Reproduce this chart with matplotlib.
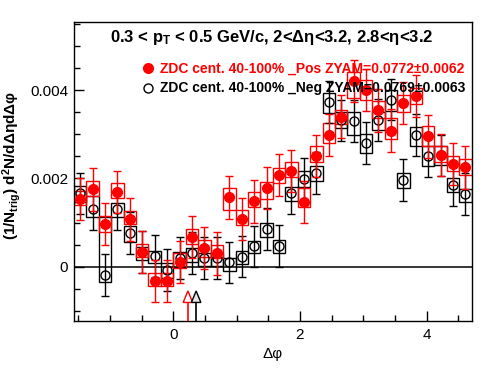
import numpy as np
import matplotlib
matplotlib.use("Agg")
import matplotlib.pyplot as plt
from matplotlib.patches import Rectangle, Polygon
from matplotlib.ticker import MultipleLocator

plt.rcParams['font.family'] = ['Liberation Sans', 'DejaVu Sans']
plt.rcParams['mathtext.fontset'] = 'custom'
plt.rcParams['mathtext.rm'] = 'Liberation Sans:bold'
plt.rcParams['mathtext.it'] = 'Liberation Sans:bold'
plt.rcParams['mathtext.bf'] = 'Liberation Sans:bold'

# ---- data ----
nbins = 32
dphi = -np.pi / 2 + (np.arange(nbins) + 0.5) * (2 * np.pi / nbins)

pos_y = [0.00153, 0.00175, 0.00097, 0.00169, 0.00107, 0.00033, -0.00032, -0.00032,
         0.00010, 0.00067, 0.00042, 0.00030, 0.00157, 0.00108, 0.00148, 0.00178,
         0.00208, 0.00217, 0.00147, 0.00250, 0.00298, 0.00340, 0.00420, 0.00400,
         0.00354, 0.00308, 0.00370, 0.00386, 0.00295, 0.00253, 0.00232, 0.00225]
pos_err = [0.00048] * nbins
pos_sys_hi = [0.00172, 0.00195, 0.00115, 0.00189, 0.00127, 0.00051, -0.00015, -0.00015,
              0.00031, 0.00085, 0.00060, 0.00048, 0.00178, 0.00128, 0.00169, 0.00192,
              0.00223, 0.00236, 0.00179, 0.00273, 0.00325, 0.00355, 0.00441, 0.00423,
              0.00374, 0.00337, 0.00389, 0.00405, 0.00319, 0.00273, 0.00251, 0.00243]
pos_sys_lo = [0.00140, 0.00161, 0.00079, 0.00155, 0.00097, 0.00023, -0.00044, -0.00044,
              -0.00003, 0.00051, 0.00023, 0.00019, 0.00128, 0.00094, 0.00135, 0.00153,
              0.00190, 0.00204, 0.00135, 0.00236, 0.00281, 0.00323, 0.00382, 0.00378,
              0.00336, 0.00289, 0.00351, 0.00369, 0.00273, 0.00236, 0.00217, 0.00208]

neg_y = [0.00166, 0.00130, -0.00019, 0.00130, 0.00076, 0.00033, 0.00024, -0.00008,
         0.00020, 0.00031, 0.00020, 0.00020, 0.00010, 0.00023, 0.00046, 0.00085,
         0.00047, 0.00166, 0.00198, 0.00212, 0.00373, 0.00331, 0.00330, 0.00280,
         0.00332, 0.00378, 0.00196, 0.00298, 0.00250, 0.00252, 0.00185, 0.00164]
neg_err = [0.00047] * nbins
neg_sys_hi = [0.00183, 0.00159, 0.00113, 0.00144, 0.00091, 0.00045, 0.00036, 0.00008,
              0.00034, 0.00043, 0.00030, 0.00030, 0.00019, 0.00036, 0.00059, 0.00098,
              0.00060, 0.00181, 0.00217, 0.00228, 0.00393, 0.00350, 0.00350, 0.00300,
              0.00351, 0.00400, 0.00213, 0.00316, 0.00273, 0.00273, 0.00200, 0.00175]
neg_sys_lo = [0.00147, 0.00113, -0.00035, 0.00113, 0.00057, 0.00015, 0.00008, -0.00026,
              0.00000, 0.00011, 0.00002, 0.00002, -0.00009, 0.00005, 0.00030, 0.00067,
              0.00030, 0.00149, 0.00181, 0.00195, 0.00347, 0.00313, 0.00298, 0.00258,
              0.00310, 0.00353, 0.00178, 0.00273, 0.00228, 0.00230, 0.00168, 0.00147]

zyam_x = [0.23, 0.36]           # Pos, Neg
zyam_colors = ['#ff0000', '#000000']
zyam_fill = ['#ffffff', '#e6e6e6']

title = r"0.3 < p$_{\rm T}$ < 0.5 GeV/c, 2<Δη<3.2, 2.8<η<3.2"
leg_pos = "ZDC cent. 40-100% _Pos ZYAM=0.0772±0.0062"
leg_neg = "ZDC cent. 40-100% _Neg ZYAM=0.0769±0.0063"

# ---- figure ----
fig = plt.figure(figsize=(4.96, 3.74), dpi=100)
ax = fig.add_axes([0.149, 0.1417, 0.802, 0.7995])
xlo, xhi = -np.pi / 2, 3 * np.pi / 2
ylo, yhi = -0.00123, 0.00554
ax.set_xlim(xlo, xhi)
ax.set_ylim(ylo, yhi)
bw = 2 * np.pi / nbins

def boxes(yl, yh, color):
    for xc, a, b in zip(dphi, yl, yh):
        ax.add_patch(Rectangle((xc - bw / 2, a), bw, b - a, fill=False,
                               edgecolor=color, lw=1.0, zorder=2))

boxes(neg_sys_lo, neg_sys_hi, 'black')
boxes(pos_sys_lo, pos_sys_hi, '#ff0000')

ax.axhline(0, color='black', lw=1.1, zorder=1)

ax.errorbar(dphi, neg_y, yerr=neg_err, fmt='o', mfc='none', mec='black', mew=1.0,
            ms=6.5, ecolor='black', elinewidth=1.0, capsize=3, capthick=1.0, zorder=3)
ax.errorbar(dphi, pos_y, yerr=pos_err, fmt='o', mfc='#ff0000', mec='#ff0000',
            ms=7, ecolor='#ff0000', elinewidth=1.0, capsize=3, capthick=1.0, zorder=4)

# ZYAM arrows
tip, base = -0.00055, -0.00081
hw = 0.075
for xz, c, fc in zip(zyam_x, zyam_colors, zyam_fill):
    ax.plot([xz, xz], [ylo, base], color=c, lw=1.2, zorder=5)
    ax.add_patch(Polygon([[xz - hw, base], [xz + hw, base], [xz, tip]], closed=True,
                         facecolor=fc, edgecolor=c, lw=1.0, zorder=5))

# texts
ax.text(0.498, 0.948, title, transform=ax.transAxes, ha='center', va='center',
        fontsize=12, fontweight='bold')
ax.plot([0.186], [0.845], 'o', color='#ff0000', ms=7, transform=ax.transAxes, clip_on=False)
ax.text(0.216, 0.845, leg_pos, transform=ax.transAxes, ha='left', va='center',
        fontsize=10, fontweight='bold', color='#ff0000')
ax.plot([0.186], [0.778], 'o', mfc='none', mec='black', mew=1.0, ms=6.5,
        transform=ax.transAxes, clip_on=False)
ax.text(0.216, 0.778, leg_neg, transform=ax.transAxes, ha='left', va='center',
        fontsize=10, fontweight='bold', color='black', zorder=6)

# axes styling
ax.xaxis.set_major_locator(MultipleLocator(2))
ax.xaxis.set_minor_locator(MultipleLocator(0.5))
ax.yaxis.set_major_locator(MultipleLocator(0.002))
ax.yaxis.set_minor_locator(MultipleLocator(0.0005))
ax.yaxis.set_major_formatter(matplotlib.ticker.FuncFormatter(
    lambda v, p: '0' if abs(v) < 1e-9 else f'{v:.3f}'))
ax.tick_params(which='both', direction='in', top=False, right=False, labelsize=11)
ax.tick_params(which='major', length=7, width=1.0)
ax.tick_params(which='minor', length=4, width=1.0)
ax.tick_params(axis='x', pad=5)
ax.tick_params(axis='y', pad=4)
for s in ax.spines.values():
    s.set_linewidth(1.0)

ax.set_xlabel('Δφ', fontsize=11)
ax.xaxis.set_label_coords(0.5, -0.088)
ax.set_ylabel(r"(1/N$_{\rm trig}$) d$^{\rm 2}$N/dΔηdΔφ", fontsize=11, fontweight='bold')
ax.yaxis.set_label_coords(-0.128, 0.52)

fig.savefig('out.png', dpi=100)
